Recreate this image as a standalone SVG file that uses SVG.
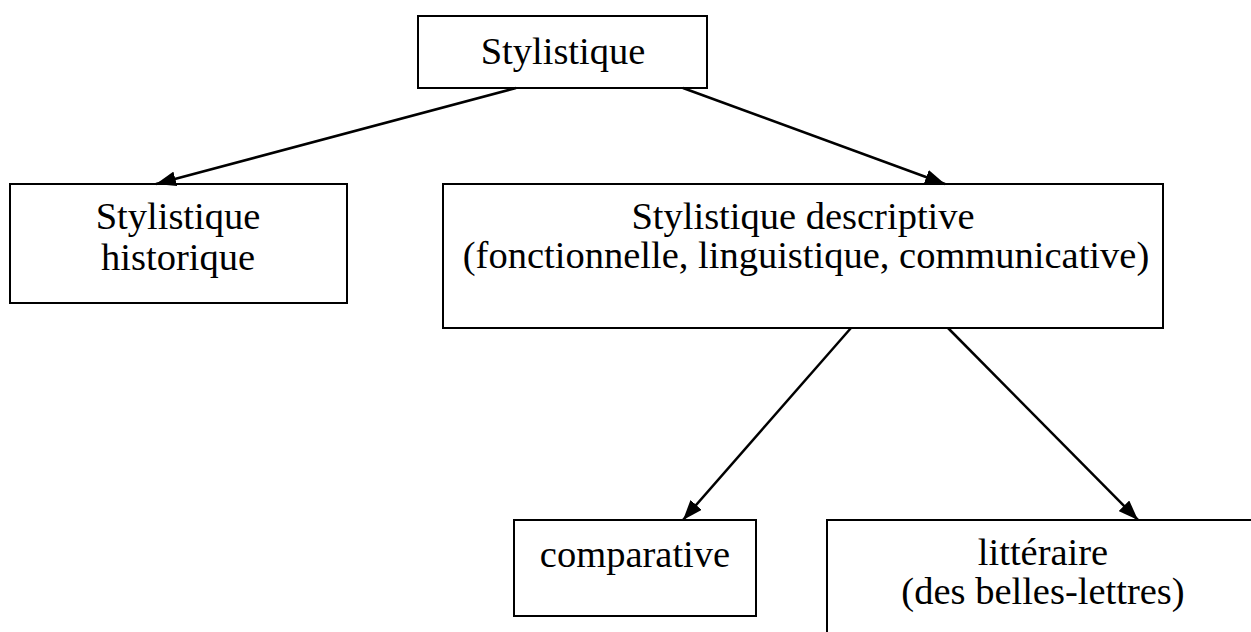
<svg xmlns="http://www.w3.org/2000/svg" width="1251" height="632" viewBox="0 0 1251 632">
<defs>
<style>
.box{fill:#fff;stroke:#000;stroke-width:2}
.t{font-family:"Liberation Serif","Times New Roman",serif;font-size:38.5px;fill:#000;text-anchor:middle}
.c{stroke:#000;stroke-width:2.5;fill:none;marker-end:url(#ah)}
</style>
<marker id="ah" markerWidth="8" markerHeight="6" refX="8" refY="3" orient="auto" markerUnits="strokeWidth">
<path d="M0,0 L8,3 L0,6 Z" fill="#000"/>
</marker>
</defs>
<rect width="1251" height="632" fill="#fff"/>
<g id="n-root">
<rect class="box" x="418" y="16" width="289" height="72"/>
<text class="t" x="563" y="64">Stylistique</text>
</g>
<g id="n-hist">
<rect class="box" x="10" y="184" width="337" height="119"/>
<text class="t" x="178" y="229">Stylistique</text>
<text class="t" x="178" y="270">historique</text>
</g>
<g id="n-desc">
<rect class="box" x="443" y="184" width="720" height="144"/>
<text class="t" x="803" y="229">Stylistique descriptive</text>
<text class="t" x="806" y="268">(fonctionnelle, linguistique, communicative)</text>
</g>
<g id="n-comp">
<rect class="box" x="514" y="520" width="242" height="96"/>
<text class="t" x="635" y="567">comparative</text>
</g>
<g id="n-litt">
<rect class="box" x="827" y="520" width="440" height="130"/>
<text class="t" x="1043" y="565">littéraire</text>
<text class="t" x="1043" y="604">(des belles-lettres)</text>
</g>
<g id="connectors">
<line class="c" x1="516" y1="88" x2="156" y2="184"/>
<line class="c" x1="683" y1="88" x2="945" y2="184"/>
<line class="c" x1="851" y1="328" x2="683" y2="520"/>
<line class="c" x1="948" y1="328" x2="1138" y2="520"/>
</g>
</svg>
